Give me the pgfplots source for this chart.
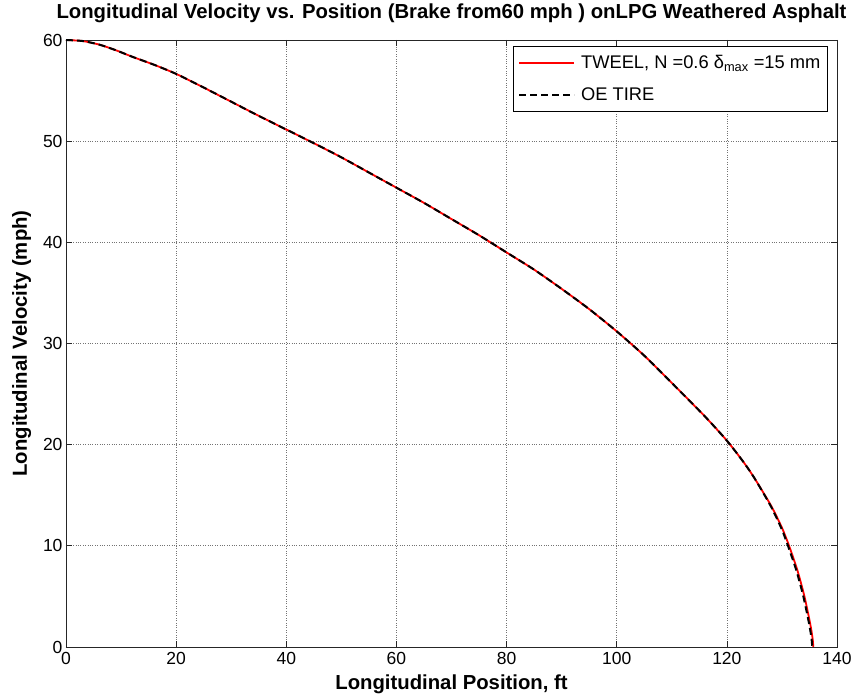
\documentclass[border=0pt]{standalone}
\usepackage{fontspec}
\setmainfont{Liberation Sans}
\usepackage{pgfplots}
\pgfplotsset{compat=1.18}
\definecolor{mred}{rgb}{1,0,0}
\begin{document}
\begin{tikzpicture}
\begin{axis}[
  scale only axis, width=771pt, height=607pt,
  xmin=0, xmax=140, ymin=0, ymax=60,
  xtick={0,20,...,140}, ytick={0,10,...,60},
  tick align=inside, tick pos=both,
  major tick length=6pt,
  grid=major,
  major grid style={dotted, black!55, line width=0.7pt},
  axis line style={line width=0.7pt, black!85},
  tick style={line width=0.7pt, black!85},
  /pgf/number format/assume math mode=true,
  ticklabel style={font=\fontsize{17.5}{20}\selectfont},
  xticklabel style={yshift=-2pt},
  title={Longitudinal Velocity vs. Position (Brake from60 mph ) onLPG Weathered Asphalt},
  title style={font=\fontsize{20.3}{24}\selectfont\bfseries, at={(0.5,1)}, anchor=base, yshift=15pt},
  xlabel={Longitudinal Position, ft},
  ylabel={Longitudinal Velocity (mph)},
  label style={font=\fontsize{20.3}{24}\selectfont\bfseries},
  xlabel style={at={(0.5,0)}, anchor=base, yshift=-43pt},
  ylabel style={at={(0,0.5)}, anchor=base, yshift=39pt},
  legend cell align=left,
  legend style={font=\fontsize{18.3}{22}\selectfont, draw=black, line width=0.7pt,
    at={(0.988,0.990)}, anchor=north east, inner xsep=5pt, inner ysep=7pt,
    row sep=14pt, /tikz/every odd column/.append style={column sep=4pt}},
  legend image code/.code={\draw[#1] (0pt,0pt) -- (55pt,0pt);},
]
\addplot[mred, line width=1.8pt, line join=round, smooth, tension=0.4] coordinates {
(0,60) (3,59.9) (6,59.55) (9,59.0) (12,58.35) (16,57.55) (20,56.65) (25,55.3)
(30,53.9) (35,52.5) (40,51.15) (45,49.8) (50,48.4) (55,46.9) (60,45.4) (65,43.9)
(70,42.3) (75,40.7) (80,39.0) (85,37.3) (90,35.4) (95,33.4) (100,31.2) (105,28.8)
(110,26.1) (116,22.8) (120,20.4) (123,18.3) (125,16.7) (128,14.0) (130,11.8)
(131.3,10.0) (132.8,7.6) (134.0,5.2) (134.8,3.2) (135.3,1.8) (135.6,0.7) (135.7,0)
};
\addlegendentry{TWEEL, N =0.6 δ\textsubscript{max} =15 mm}
\addplot[black, line width=2pt, dash pattern=on 7pt off 4pt, smooth, tension=0.4] coordinates {
(0,60) (3,59.9) (6,59.55) (9,59.0) (12,58.35) (16,57.55) (20,56.65) (25,55.3)
(30,53.9) (35,52.5) (40,51.15) (45,49.8) (50,48.4) (55,46.9) (60,45.4) (65,43.9)
(70,42.3) (75,40.7) (80,39.0) (85,37.3) (90,35.4) (95,33.4) (100,31.2) (105,28.8)
(110,26.1) (116,22.8) (120,20.4) (123,18.3) (125,16.7) (128,13.9) (130,11.6)
(131.1,10.0) (132.6,7.6) (133.8,5.2) (134.6,3.2) (135.1,1.8) (135.4,0.7) (135.5,0)
};
\addlegendentry{OE TIRE}
\end{axis}
\pgfresetboundingbox
\path[use as bounding box] ([xshift=-66pt,yshift=-53pt]current axis.south west)
  rectangle ([xshift=18pt,yshift=40pt]current axis.north east);
\end{tikzpicture}
\end{document}
